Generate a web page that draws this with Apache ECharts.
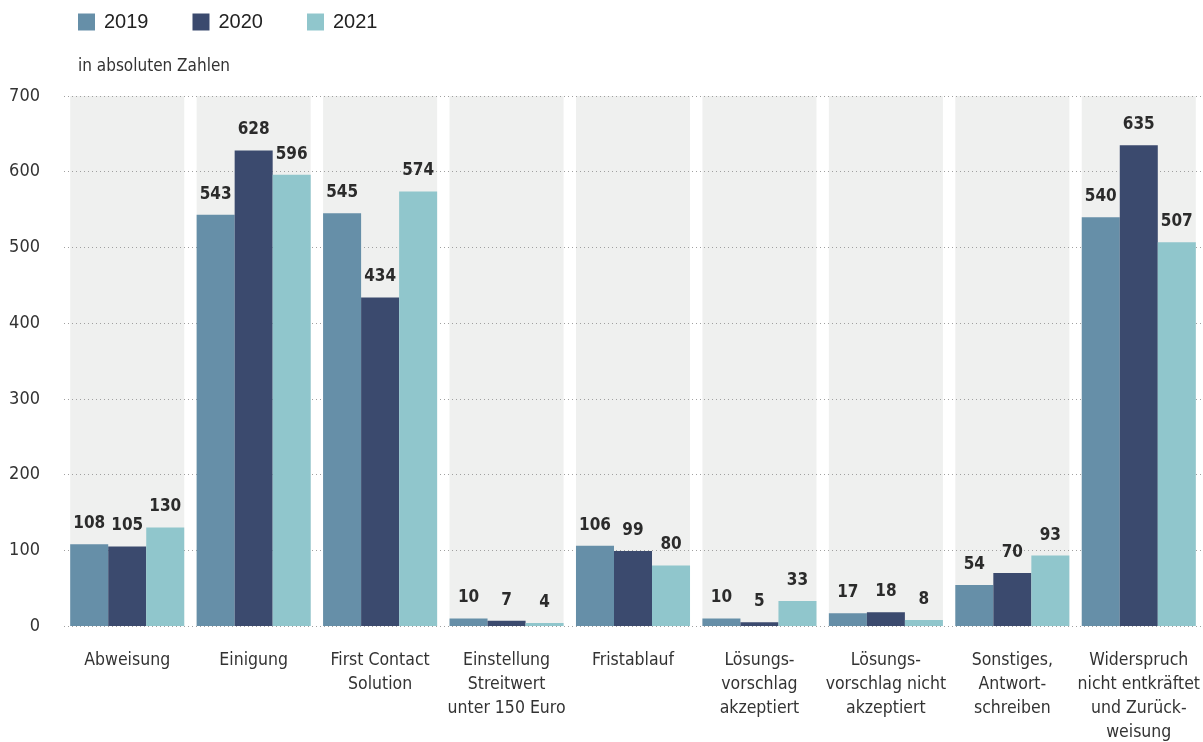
<!DOCTYPE html>
<html>
<head>
<meta charset="utf-8">
<script src="https://cdn.jsdelivr.net/npm/echarts@6/dist/echarts.min.js"></script>
<style>
  html, body { margin: 0; padding: 0; background: #ffffff; }
  #chart { width: 1203px; height: 742px; }
</style>
</head>
<body>
<div id="chart"></div>
<script>
// Kategorien der Verfahrensbeendigung
const categories = [
  'Abweisung',
  'Einigung',
  'First Contact\nSolution',
  'Einstellung\nStreitwert\nunter 150 Euro',
  'Fristablauf',
  'Lösungs-\nvorschlag\nakzeptiert',
  'Lösungs-\nvorschlag nicht\nakzeptiert',
  'Sonstiges,\nAntwort-\nschreiben',
  'Widerspruch\nnicht entkräftet\nund Zurück-\nweisung'
];

// Werte je Jahr (in absoluten Zahlen)
const values2019 = [108, 543, 545, 10, 106, 10, 17, 54, 540];
const values2020 = [105, 628, 434, 7, 99, 5, 18, 70, 635];
const values2021 = [130, 596, 574, 4, 80, 33, 8, 93, 507];

const years = ['2019', '2020', '2021'];
const colors = ['#668fa8', '#3b4a6e', '#90c6cc'];

// Skala der y-Achse
const yMin = 0;
const yMax = 700;
const yStep = 100;

const condensed = '"DejaVu Sans Condensed", "Liberation Sans Narrow", sans-serif';

function barSeries(name, data, color) {
  return {
    name: name,
    type: 'bar',
    xAxisIndex: 0,
    data: data,
    barGap: '0%',
    barCategoryGap: '9.8%',
    itemStyle: { color: color },
    z: 3,
    label: {
      show: true,
      position: 'top',
      distance: 12,
      color: '#2b2b2b',
      fontFamily: condensed,
      fontSize: 17,
      fontWeight: 'bold'
    }
  };
}

const chart = echarts.init(document.getElementById('chart'), null, { renderer: 'canvas' });
chart.setOption({
  animation: false,
  color: colors,
  legend: {
    data: years,
    left: 73,
    top: 7,
    itemWidth: 17,
    itemHeight: 17,
    itemGap: 44,
    icon: 'rect',
    textStyle: { fontSize: 20, color: '#222', fontFamily: '"Liberation Sans", Arial, sans-serif', padding: [0, 0, 0, 4] }
  },
  title: {
    text: 'in absoluten Zahlen',
    left: 73,
    top: 53,
    textStyle: { fontSize: 17, fontWeight: 'normal', color: '#333', fontFamily: condensed }
  },
  grid: { left: 64, right: 1, top: 96, bottom: 116, containLabel: false, outerBoundsMode: 'none' },
  xAxis: [
    {
      type: 'category',
      data: categories,
      axisLine: { show: false },
      axisTick: { show: false },
      axisLabel: {
        interval: 0,
        margin: 22,
        color: '#333',
        fontSize: 17.5,
        lineHeight: 24,
        fontFamily: condensed,
        verticalAlign: 'top'
      }
    },
    {
      // unsichtbare Achse für die grauen Hintergrundflächen
      type: 'category',
      data: categories,
      show: false
    }
  ],
  yAxis: {
    type: 'value',
    min: yMin,
    max: yMax,
    interval: yStep,
    axisLine: { show: false },
    axisTick: { show: false },
    axisLabel: {
      margin: 24,
      color: '#333',
      fontSize: 18,
      fontFamily: condensed
    },
    splitLine: { show: true, lineStyle: { color: '#a0a0a0', type: [1, 3], width: 1 } },
    z: 1
  },
  series: [
    {
      name: 'Hintergrund',
      type: 'bar',
      xAxisIndex: 1,
      data: categories.map(() => yMax),
      barWidth: '90.2%',
      itemStyle: { color: '#eff0ef' },
      silent: true,
      z: 0,
      label: { show: false }
    },
    barSeries(years[0], values2019, colors[0]),
    barSeries(years[1], values2020, colors[1]),
    barSeries(years[2], values2021, colors[2])
  ]
});
</script>
</body>
</html>
